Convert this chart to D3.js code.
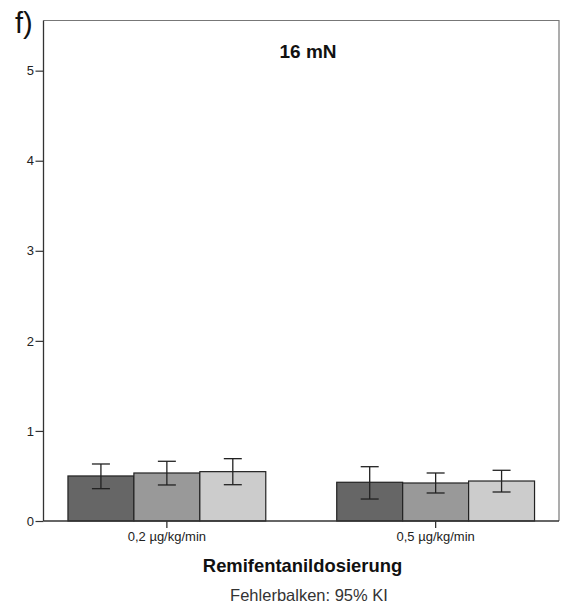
<!DOCTYPE html>
<html>
<head>
<meta charset="utf-8">
<script src="https://cdn.jsdelivr.net/npm/d3@7"></script>
<style>
  body { margin: 0; background: #fff; }
  text { font-family: Arial, "Liberation Sans", sans-serif; }
</style>
</head>
<body>
<svg width="561" height="608"></svg>
<script>
// Data
var categories = ['0,2 µg/kg/min', '0,5 µg/kg/min'];
var series = ['a', 'b', 'c'];
var means = [[0.50, 0.533, 0.548], [0.43, 0.422, 0.444]];
var ciLow = [[0.359, 0.40, 0.403], [0.244, 0.311, 0.322]];
var ciHigh = [[0.633, 0.663, 0.692], [0.603, 0.533, 0.563]];
var yTicks = [0, 1, 2, 3, 4, 5];
var colors = ['#666666', '#999999', '#cccccc'];

var margin = {top: 20.5, right: 2, bottom: 87, left: 43.5};
var width = 561 - margin.left - margin.right;
var height = 608 - margin.top - margin.bottom;

var svg = d3.select('svg');
var chart = svg.append('g')
  .attr('transform', 'translate(' + margin.left + ',' + margin.top + ')');

var x = d3.scaleBand().domain(categories).range([0, width]).paddingInner(0.264).paddingOuter(0.091);
var xs = d3.scaleBand().domain(series).range([0, x.bandwidth()]);
var y = d3.scaleLinear().domain([0, 5.557]).range([height, 0]);

// frame (top and right)
chart.append('path')
  .attr('d', 'M0,0H' + width + 'V' + height)
  .attr('fill', 'none')
  .attr('stroke', '#777')
  .attr('stroke-width', 1.2);

// bars
var groups = chart.selectAll('.grp')
  .data(categories).enter()
  .append('g')
  .attr('transform', d => 'translate(' + x(d) + ',0)');

groups.selectAll('rect')
  .data((d, i) => series.map((s, j) => ({s: s, j: j, v: means[i][j]})))
  .enter().append('rect')
  .attr('x', d => xs(d.s))
  .attr('width', xs.bandwidth())
  .attr('y', d => y(d.v))
  .attr('height', d => height - y(d.v))
  .attr('fill', d => colors[d.j])
  .attr('stroke', '#222')
  .attr('stroke-width', 1.2);

// error bars
var err = groups.selectAll('.err')
  .data((d, i) => series.map((s, j) => ({s: s, lo: ciLow[i][j], hi: ciHigh[i][j]})))
  .enter().append('g')
  .attr('stroke', '#222')
  .attr('stroke-width', 1.3);
var cx = d => xs(d.s) + xs.bandwidth() / 2;
err.append('line').attr('x1', cx).attr('x2', cx).attr('y1', d => y(d.lo)).attr('y2', d => y(d.hi));
err.append('line').attr('x1', d => cx(d) - 9).attr('x2', d => cx(d) + 9).attr('y1', d => y(d.lo)).attr('y2', d => y(d.lo));
err.append('line').attr('x1', d => cx(d) - 9).attr('x2', d => cx(d) + 9).attr('y1', d => y(d.hi)).attr('y2', d => y(d.hi));

// axes
var yAxis = d3.axisLeft(y).tickValues(yTicks).tickSize(8).tickPadding(1.5).tickFormat(d3.format('d'));
var ya = chart.append('g').call(yAxis);
ya.select('.domain').remove();
ya.selectAll('text').attr('font-size', 13).attr('fill', '#222');
ya.selectAll('line').attr('stroke', '#333').attr('stroke-width', 1.2);
chart.append('line').attr('x1', 0).attr('x2', 0).attr('y1', 0).attr('y2', height)
  .attr('stroke', '#333').attr('stroke-width', 1.3);

var xAxis = d3.axisBottom(x).tickSize(7).tickPadding(4);
var xa = chart.append('g').attr('transform', 'translate(0,' + height + ')').call(xAxis);
xa.select('.domain').remove();
xa.selectAll('text').attr('font-size', 13).attr('fill', '#222');
xa.selectAll('line').attr('stroke', '#333').attr('stroke-width', 1.3);
chart.append('line').attr('x1', 0).attr('x2', width).attr('y1', height).attr('y2', height)
  .attr('stroke', '#333').attr('stroke-width', 1.3);

// texts
svg.append('text').attr('x', 15).attr('y', 33).attr('font-size', 29).attr('fill', '#111').text('f)');
svg.append('text').attr('x', 308).attr('y', 58)
  .attr('text-anchor', 'middle').attr('font-size', 19).attr('font-weight', 'bold').attr('fill', '#111').text('16 mN');
svg.append('text').attr('x', 302.5).attr('y', 572)
  .attr('text-anchor', 'middle').attr('font-size', 18.4).attr('font-weight', 'bold').attr('fill', '#111').text('Remifentanildosierung');
svg.append('text').attr('x', 309).attr('y', 601)
  .attr('text-anchor', 'middle').attr('font-size', 16.5).attr('fill', '#333').text('Fehlerbalken: 95% KI');
</script>
</body>
</html>
